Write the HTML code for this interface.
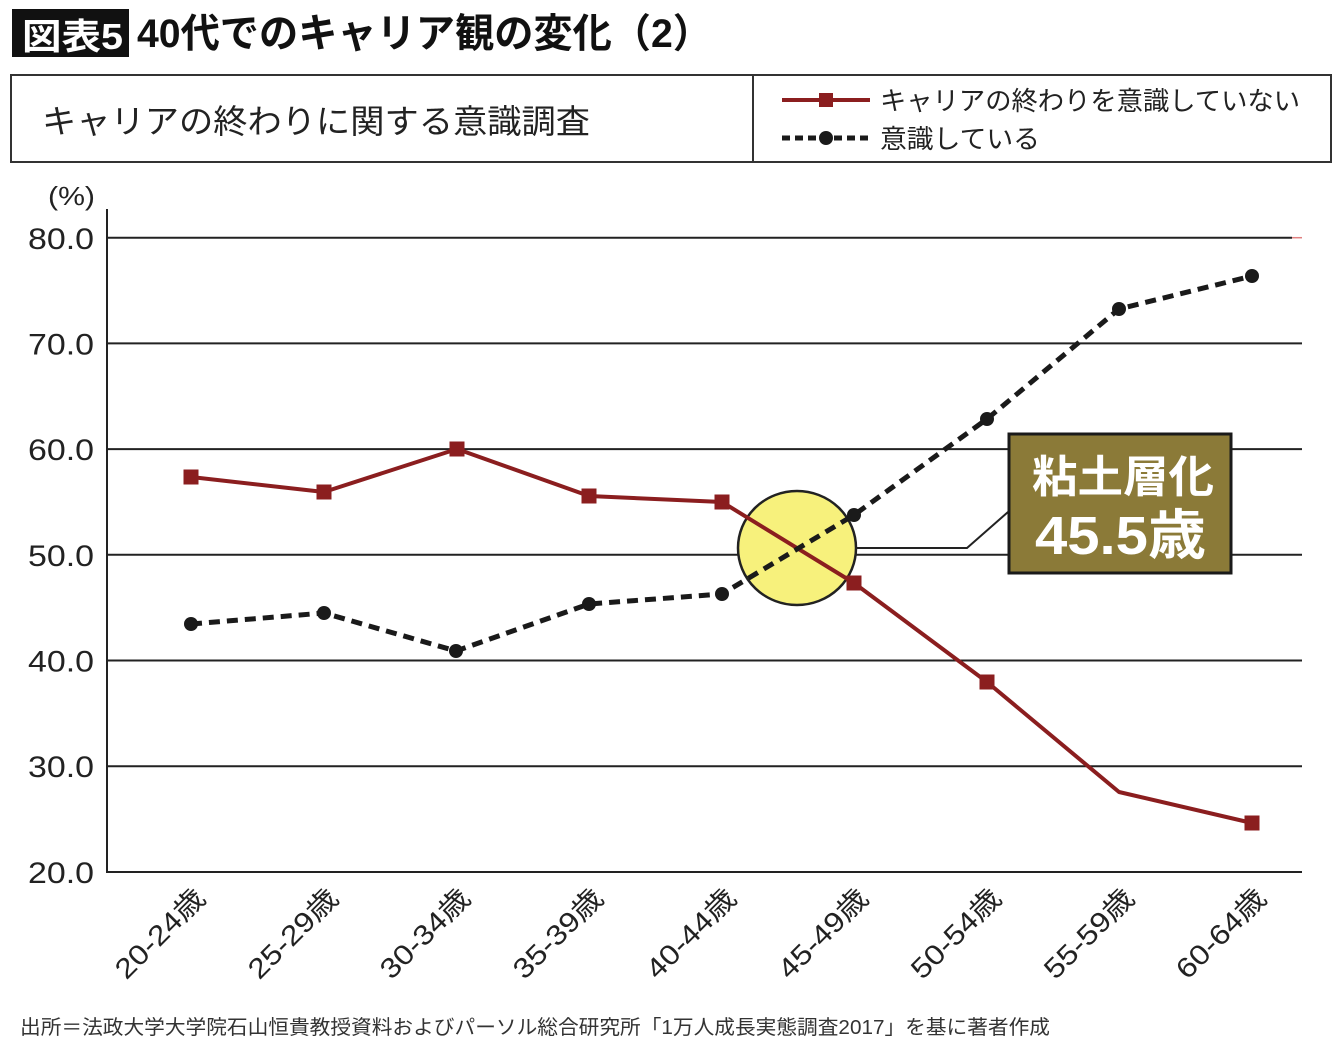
<!DOCTYPE html>
<html>
<head>
<meta charset="utf-8">
<style>
html,body{margin:0;padding:0;background:#fff;}
svg{display:block;}
text{font-family:"Liberation Sans","Noto Sans CJK JP",sans-serif;}
</style>
</head>
<body>
<svg width="1340" height="1049" viewBox="0 0 1340 1049" xmlns="http://www.w3.org/2000/svg">
  <rect x="0" y="0" width="1340" height="1049" fill="#fff"/>

  <!-- Title -->
  <rect x="12" y="9" width="117" height="48" fill="#111"/>
  <text x="22" y="49" font-size="36" font-weight="bold" fill="#fff" textLength="101" lengthAdjust="spacingAndGlyphs">図表5</text>
  <text x="137" y="47" font-size="40" font-weight="bold" fill="#111" textLength="575" lengthAdjust="spacingAndGlyphs">40代でのキャリア観の変化（2）</text>

  <!-- Subtitle / legend box -->
  <rect x="11" y="75" width="1320" height="87" fill="none" stroke="#333" stroke-width="2"/>
  <line x1="753" y1="75" x2="753" y2="162" stroke="#333" stroke-width="2"/>
  <text x="42" y="133" font-size="33" fill="#222" textLength="548" lengthAdjust="spacingAndGlyphs">キャリアの終わりに関する意識調査</text>

  <!-- legend -->
  <line x1="782" y1="100" x2="870" y2="100" stroke="#8b1e1f" stroke-width="4"/>
  <rect x="819" y="93" width="14" height="14" fill="#8b1e1f"/>
  <text x="880" y="110" font-size="26" fill="#222" textLength="420" lengthAdjust="spacingAndGlyphs">キャリアの終わりを意識していない</text>
  <line x1="782" y1="138" x2="870" y2="138" stroke="#1a1a1a" stroke-width="5" stroke-dasharray="8 5"/>
  <circle cx="826" cy="138" r="7" fill="#1a1a1a"/>
  <text x="880" y="148" font-size="26" fill="#222" textLength="160" lengthAdjust="spacingAndGlyphs">意識している</text>

  <!-- y unit -->
  <text x="95" y="205" font-size="26" fill="#222" text-anchor="end" textLength="47" lengthAdjust="spacingAndGlyphs">(%)</text>

  <!-- gridlines -->
  <g stroke="#222" stroke-width="2">
    <line x1="107" y1="237.7" x2="1292" y2="237.7"/>
    <line x1="107" y1="343.4" x2="1302" y2="343.4"/>
    <line x1="107" y1="449.1" x2="1302" y2="449.1"/>
    <line x1="107" y1="554.8" x2="1302" y2="554.8"/>
    <line x1="107" y1="660.5" x2="1302" y2="660.5"/>
    <line x1="107" y1="766.2" x2="1302" y2="766.2"/>
    <line x1="107" y1="872" x2="1302" y2="872"/>
    <line x1="107" y1="209" x2="107" y2="873"/>
  </g>
  <line x1="1292" y1="237.7" x2="1302" y2="237.7" stroke="#e08080" stroke-width="1.5"/>

  <!-- y labels -->
  <g font-size="30" fill="#222" text-anchor="end">
    <text x="94" y="249" textLength="66" lengthAdjust="spacingAndGlyphs">80.0</text>
    <text x="94" y="354.5" textLength="66" lengthAdjust="spacingAndGlyphs">70.0</text>
    <text x="94" y="460" textLength="66" lengthAdjust="spacingAndGlyphs">60.0</text>
    <text x="94" y="566" textLength="66" lengthAdjust="spacingAndGlyphs">50.0</text>
    <text x="94" y="671.5" textLength="66" lengthAdjust="spacingAndGlyphs">40.0</text>
    <text x="94" y="777" textLength="66" lengthAdjust="spacingAndGlyphs">30.0</text>
    <text x="94" y="883" textLength="66" lengthAdjust="spacingAndGlyphs">20.0</text>
  </g>

  <!-- x labels -->
  <g font-size="28" fill="#222" text-anchor="end">
    <text transform="translate(207,900) rotate(-45)" textLength="114" lengthAdjust="spacingAndGlyphs">20-24歳</text>
    <text transform="translate(340,900) rotate(-45)" textLength="114" lengthAdjust="spacingAndGlyphs">25-29歳</text>
    <text transform="translate(472,900) rotate(-45)" textLength="114" lengthAdjust="spacingAndGlyphs">30-34歳</text>
    <text transform="translate(605,900) rotate(-45)" textLength="114" lengthAdjust="spacingAndGlyphs">35-39歳</text>
    <text transform="translate(738,900) rotate(-45)" textLength="114" lengthAdjust="spacingAndGlyphs">40-44歳</text>
    <text transform="translate(870,900) rotate(-45)" textLength="114" lengthAdjust="spacingAndGlyphs">45-49歳</text>
    <text transform="translate(1003,900) rotate(-45)" textLength="114" lengthAdjust="spacingAndGlyphs">50-54歳</text>
    <text transform="translate(1136,900) rotate(-45)" textLength="114" lengthAdjust="spacingAndGlyphs">55-59歳</text>
    <text transform="translate(1268,900) rotate(-45)" textLength="114" lengthAdjust="spacingAndGlyphs">60-64歳</text>
  </g>

  <!-- highlight circle -->
  <ellipse cx="797" cy="548" rx="59" ry="57" fill="#f7f17c" stroke="#222" stroke-width="2.5"/>
  <polyline points="856,548 967,548 1008,512" fill="none" stroke="#222" stroke-width="2"/>

  <!-- red series -->
  <polyline points="191,477 324,492 457,449 589,496 722,502 854,583 987,682 1119,792 1252,823" fill="none" stroke="#8b1e1f" stroke-width="4" stroke-linejoin="round"/>
  <g fill="#8b1e1f">
    <rect x="183.5" y="469.5" width="15" height="15"/>
    <rect x="316.5" y="484.5" width="15" height="15"/>
    <rect x="449.5" y="441.5" width="15" height="15"/>
    <rect x="581.5" y="488.5" width="15" height="15"/>
    <rect x="714.5" y="494.5" width="15" height="15"/>
    <rect x="846.5" y="575.5" width="15" height="15"/>
    <rect x="979.5" y="674.5" width="15" height="15"/>
    <rect x="1244.5" y="815.5" width="15" height="15"/>
  </g>

  <!-- black dashed series -->
  <polyline points="191,624 324,613 456,651 589,604 722,594 854,515 987,419 1119,309 1252,276" fill="none" stroke="#1a1a1a" stroke-width="5" stroke-dasharray="11 7"/>
  <g fill="#1a1a1a">
    <circle cx="191" cy="624" r="7"/>
    <circle cx="324" cy="613" r="7"/>
    <circle cx="456" cy="651" r="7"/>
    <circle cx="589" cy="604" r="7"/>
    <circle cx="722" cy="594" r="7"/>
    <circle cx="854" cy="515" r="7"/>
    <circle cx="987" cy="419" r="7"/>
    <circle cx="1119" cy="309" r="7"/>
    <circle cx="1252" cy="276" r="7"/>
  </g>

  <!-- annotation box -->
  <rect x="1009" y="434" width="222" height="139" fill="#8b7a38" stroke="#1a1a1a" stroke-width="3"/>
  <text x="1032" y="492" font-size="44" font-weight="bold" fill="#fff" textLength="182" lengthAdjust="spacingAndGlyphs">粘土層化</text>
  <text x="1035" y="554" font-size="54" font-weight="bold" fill="#fff" textLength="171" lengthAdjust="spacingAndGlyphs">45.5歳</text>

  <!-- footnote -->
  <text x="20" y="1034" font-size="20" fill="#333" textLength="1030" lengthAdjust="spacingAndGlyphs">出所＝法政大学大学院石山恒貴教授資料およびパーソル総合研究所「1万人成長実態調査2017」を基に著者作成</text>
</svg>
</body>
</html>
